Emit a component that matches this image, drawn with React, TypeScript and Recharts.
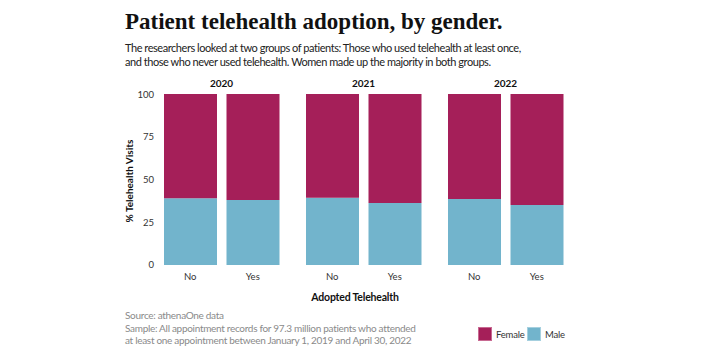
import React from 'react'
import { BarChart, Bar, XAxis, YAxis } from 'recharts'

const years = ['2020', '2021', '2022']
const adopted = ['No', 'Yes']
// share of visits, in percent, read per year as [No, Yes]
const maleShare = [39.0, 38.0, 39.4, 36.3, 38.6, 35.1]
const femaleShare = [61.0, 62.0, 60.6, 63.7, 61.4, 64.9]
const yTicks = [0, 25, 50, 75, 100]

const FEMALE = '#a51f59'
const MALE = '#72b4cc'
const SANS = 'Lato, "Open Sans", sans-serif'

const panelData = years.map((year, i) =>
  adopted.map((a, j) => ({
    adopted: a,
    Male: maleShare[i * 2 + j],
    Female: femaleShare[i * 2 + j],
  }))
)

const PLOT_W = 125
const PLOT_H = 171
const Y_AXIS_W = 49
const panelLeft = [110, 301, 443]

const tick = { fontSize: 9.5, fill: '#333', fontFamily: SANS }

function Panel({ index }: { index: number }) {
  const first = index === 0
  const width = PLOT_W + (first ? Y_AXIS_W : 0)
  return (
    <div style={{ position: 'absolute', left: panelLeft[index], top: 90 }}>
      <BarChart
        width={width}
        height={PLOT_H + 4 + 24}
        data={panelData[index]}
        margin={{ top: 4, right: 0, bottom: 0, left: 0 }}
      >
        <XAxis
          dataKey="adopted"
          axisLine={false}
          tickLine={false}
          tick={tick}
          height={24}
          interval={0}
        />
        <YAxis
          hide={!first}
          width={Y_AXIS_W}
          domain={[0, 100]}
          ticks={yTicks}
          axisLine={false}
          tickLine={false}
          tickSize={3}
          tickMargin={2}
          tick={tick}
        />
        <Bar dataKey="Male" stackId="g" fill={MALE} barSize={53} isAnimationActive={false} />
        <Bar dataKey="Female" stackId="g" fill={FEMALE} barSize={53} isAnimationActive={false} />
      </BarChart>
      <div
        style={{
          position: 'absolute',
          left: first ? Y_AXIS_W : 0,
          width: PLOT_W,
          top: -13,
          textAlign: 'center',
          fontFamily: SANS,
          fontWeight: 700,
          fontSize: 10,
          color: '#111',
        }}
      >
        {years[index]}
      </div>
    </div>
  )
}

function Swatch({ color, border, label, left }: { color: string; border: string; label: string; left: number }) {
  return (
    <div style={{ position: 'absolute', left, top: 327, display: 'flex', alignItems: 'center' }}>
      <div style={{ width: 12, height: 12, background: color, border: `1px solid ${border}` }} />
      <span style={{ marginLeft: 4, fontSize: 9.5, letterSpacing: -0.2, color: '#333', fontFamily: SANS }}>
        {label}
      </span>
    </div>
  )
}

export default function App() {
  return (
    <div
      style={{
        position: 'absolute',
        left: 0,
        top: 0,
        width: 712,
        height: 363,
        background: '#fff',
        overflow: 'hidden',
      }}
    >
      <div
        style={{
          position: 'absolute',
          left: 125,
          top: 9,
          fontFamily: '"Liberation Serif", serif',
          fontWeight: 700,
          fontSize: 23,
          lineHeight: '26px',
          color: '#111',
          whiteSpace: 'nowrap',
        }}
      >
        Patient telehealth adoption, by gender.
      </div>
      <div
        style={{
          position: 'absolute',
          left: 125,
          top: 41,
          fontFamily: SANS,
          fontSize: 11,
          letterSpacing: -0.45,
          lineHeight: '14px',
          color: '#222',
          whiteSpace: 'nowrap',
        }}
      >
        The researchers looked at two groups of patients: Those who used telehealth at least once,
        <br />
        and those who never used telehealth. Women made up the majority in both groups.
      </div>

      {years.map((y, i) => (
        <Panel key={y} index={i} />
      ))}

      <div
        style={{
          position: 'absolute',
          left: 129 - 60,
          top: 181 - 7,
          width: 120,
          height: 14,
          lineHeight: '14px',
          textAlign: 'center',
          transform: 'rotate(-90deg)',
          fontFamily: SANS,
          fontWeight: 700,
          fontSize: 10,
          color: '#111',
        }}
      >
        % Telehealth Visits
      </div>

      <div
        style={{
          position: 'absolute',
          left: 355 - 80,
          width: 160,
          top: 291,
          textAlign: 'center',
          fontFamily: SANS,
          fontWeight: 700,
          fontSize: 10.5,
          letterSpacing: -0.2,
          color: '#111',
        }}
      >
        Adopted Telehealth
      </div>

      <div
        style={{
          position: 'absolute',
          left: 125,
          top: 309,
          fontFamily: SANS,
          fontSize: 10,
          letterSpacing: -0.3,
          lineHeight: '12.5px',
          color: '#8a8a8a',
          whiteSpace: 'nowrap',
        }}
      >
        Source: athenaOne data
        <br />
        Sample: All appointment records for 97.3 million patients who attended
        <br />
        at least one appointment between January 1, 2019 and April 30, 2022
      </div>

      <Swatch color={FEMALE} border="#c86a92" label="Female" left={478} />
      <Swatch color={MALE} border="#a6d0df" label="Male" left={527} />
    </div>
  )
}
